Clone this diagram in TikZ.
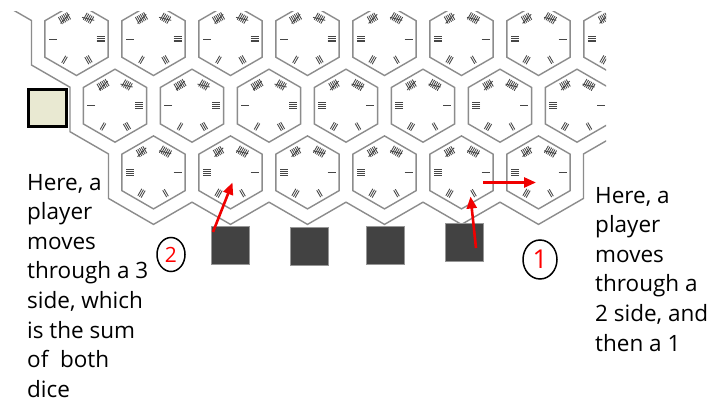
\documentclass[tikz,border=0pt]{standalone}
\usepackage{fontspec}
\setmainfont{Open Sans}
\usetikzlibrary{calc,arrows.meta,shapes.geometric}
\definecolor{hexgray}{RGB}{140,140,140}
\definecolor{tallygray}{RGB}{70,70,70}
\definecolor{beigefill}{RGB}{233,233,210}
\definecolor{darksq}{RGB}{66,66,66}
\definecolor{sqedge}{RGB}{150,150,150}
\definecolor{arrowred}{RGB}{240,0,0}
\newcommand{\tallymark}[4]{%
  \foreach \k in {1,...,#4}{%
    \pgfmathsetmacro{\tOff}{(\k-(#4+1)/2)*1.9}%
    \draw[tally, shift={(#1,#2)}, shift={({#3+90}:\tOff)}] (#3:20) -- (#3:28);
  }%
  \ifnum#4>4
    \draw[tally, shift={(#1,#2)}] ($(#3:21.5)+({#3+90}:-6)$) -- ($(#3:25)+({#3+90}:6)$);
  \fi
}
\newcommand{\hexframe}[2]{%
  \draw[hexline, shift={(#1,#2)}] (30:36.5) -- (90:36.5) -- (150:36.5) -- (210:36.5) -- (270:36.5) -- (330:36.5) -- cycle;
}
\newcommand{\hexA}[2]{%
  \hexframe{#1}{#2}%
  \tallymark{#1}{#2}{180}{1}\tallymark{#1}{#2}{120}{2}\tallymark{#1}{#2}{60}{3}%
  \tallymark{#1}{#2}{0}{4}\tallymark{#1}{#2}{300}{5}\tallymark{#1}{#2}{240}{6}%
}
\newcommand{\hexB}[2]{%
  \hexframe{#1}{#2}%
  \tallymark{#1}{#2}{0}{1}\tallymark{#1}{#2}{60}{2}\tallymark{#1}{#2}{120}{3}%
  \tallymark{#1}{#2}{180}{4}\tallymark{#1}{#2}{240}{5}\tallymark{#1}{#2}{300}{6}%
}
\begin{document}
\begin{tikzpicture}[x=1pt,y=-1pt,
  hexline/.style={draw=hexgray,line width=1.4pt,line join=miter},
  tally/.style={draw=tallygray,line width=0.85pt},
  redarrow/.style={draw=arrowred,line width=2.6pt,-{Triangle[length=12pt,width=10pt]}},
  darkbox/.style={fill=darksq,draw=sqedge,line width=0.5pt,minimum width=38pt,minimum height=38pt,inner sep=0pt},
  txt/.style={anchor=base west,inner sep=0pt,font=\fontsize{22.5}{29.6}\selectfont},
  numring/.style={ellipse,draw=black,line width=1.5pt,inner sep=0pt,text=red}]
\useasboundingbox (0,0) rectangle (722,404);
\fill[white] (0,0) rectangle (722,404);
\begin{scope}
  \clip (0,11.5) rectangle (606,300);
  % outer border of the board
  \draw[hexline] (0,2.36) -- (31.47,20.53) -- (31.47,65) -- (69.97,87.23) -- (69.97,131.7)
    -- (108.47,153.93) -- (108.47,198.4) -- (153.5,224.4) -- (192,202.17) -- (230.5,224.4)
    -- (269,202.17) -- (307.5,224.4) -- (346,202.17) -- (384.5,224.4) -- (423,202.17)
    -- (461.5,224.4) -- (500,202.17) -- (538.5,224.4) -- (583.53,198.4) -- (583.53,153.93)
    -- (622.03,131.7);
  % row 1
  \hexA{76.5}{39}\hexA{153.5}{39}\hexA{230.5}{39}\hexA{307.5}{39}
  \hexB{384.5}{39}\hexB{461.5}{39}\hexB{538.5}{39}\hexB{615.5}{39}
  % row 2
  \hexA{115}{105.7}\hexA{192}{105.7}\hexA{269}{105.7}
  \hexB{346}{105.7}\hexB{423}{105.7}\hexB{500}{105.7}\hexB{577}{105.7}
  % row 3
  \hexB{153.5}{172.4}\hexB{230.5}{172.4}\hexB{307.5}{172.4}
  \hexB{384.5}{172.4}\hexB{461.5}{172.4}\hexB{538.5}{172.4}
\end{scope}
% waiting square
\node[fill=beigefill,draw=black,line width=3pt,minimum width=38pt,minimum height=37pt,inner sep=0pt] (wait) at (47.5,108) {};
% player squares
\node[darkbox] (sq1) at (230,245) {};
\node[darkbox] (sq2) at (309,246.5) {};
\node[darkbox] (sq3) at (385,245) {};
\node[darkbox] (sq4) at (464.5,242.5) {};
% arrows
\coordinate (a2s) at (213,232);
\coordinate (a2e) at (232.5,182.5);
\coordinate (a1s) at (476,248);
\coordinate (a1e) at (470.5,196.5);
\coordinate (b1s) at (483,182.5);
\coordinate (b1e) at (536,182.5);
\draw[redarrow] (a2s) -- (a2e);
\draw[redarrow] (a1s) -- (a1e);
\draw[redarrow] (b1s) -- (b1e);
% numbered rings
\node[numring,minimum width=28pt,minimum height=34pt,font=\fontsize{21}{21}\selectfont] (ring2) at (171,254.5) {2};
\node[numring,minimum width=34pt,minimum height=39pt,font=\fontsize{26}{26}\selectfont] (ring1) at (540,259.5) {1};
% left text
\node[txt] (l1) at (27,190) {Here, a};
\node[txt] (l2) at (27,219.6) {player};
\node[txt] (l3) at (27,249.2) {moves};
\node[txt] (l4) at (27,278.8) {through a 3};
\node[txt] (l5) at (27,308.4) {side, which};
\node[txt] (l6) at (27,338) {is the sum};
\node[txt] (l7) at (27,367.6) {of\ \ both};
\node[txt] (l8) at (27,397.2) {dice};
% right text
\node[txt] (r1) at (595,203) {Here, a};
\node[txt] (r2) at (595,232.6) {player};
\node[txt] (r3) at (595,262.2) {moves};
\node[txt] (r4) at (595,291.8) {through a};
\node[txt] (r5) at (595,321.4) {2 side, and};
\node[txt] (r6) at (595,351) {then a 1};
\end{tikzpicture}
\end{document}
